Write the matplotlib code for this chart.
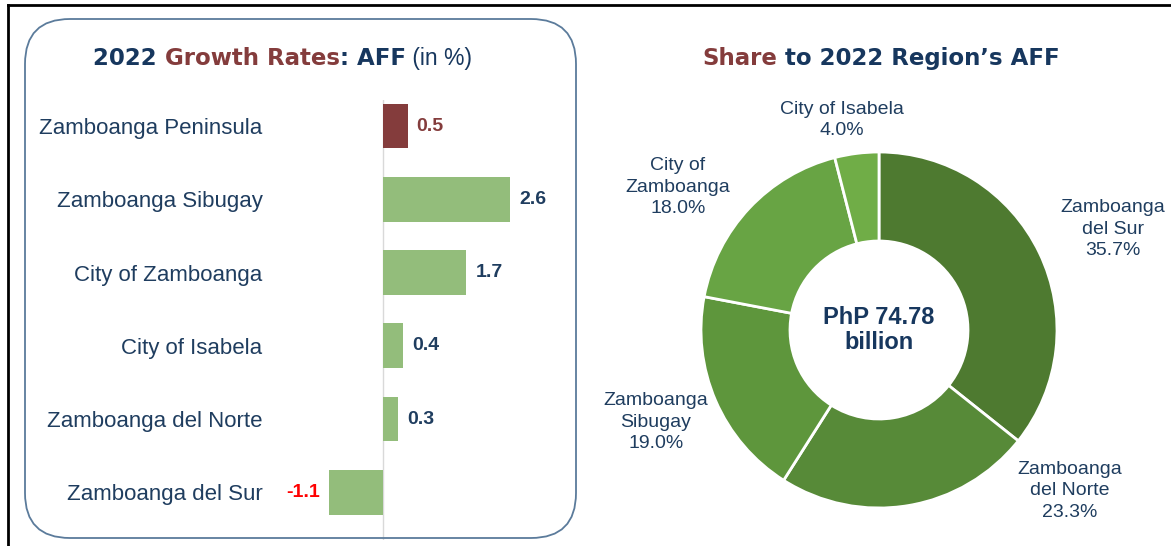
import matplotlib
matplotlib.use("Agg")
import matplotlib.pyplot as plt
from matplotlib.patches import FancyBboxPatch
from matplotlib.lines import Line2D

# ------------------------------------------------------------------------------
# data
bar_labels = ["Zamboanga Peninsula", "Zamboanga Sibugay", "City of Zamboanga",
              "City of Isabela", "Zamboanga del Norte", "Zamboanga del Sur"]
growth = [0.5, 2.6, 1.7, 0.4, 0.3, -1.1]

pie_labels = ["Zamboanga\ndel Sur", "Zamboanga\ndel Norte", "Zamboanga\nSibugay",
              "City of\nZamboanga", "City of Isabela"]
share = [35.7, 23.3, 19.0, 18.0, 4.0]
total_text = "PhP 74.78\nbillion"

# colours
navy = "#17375E"
txt_blue = "#1F3D5F"
maroon = "#843C3C"
bar_green = "#93BD7B"
pie_colors = ["#4E7A30", "#578A38", "#5E963C", "#68A444", "#70AD47"]
value_colors = [maroon, txt_blue, txt_blue, txt_blue, txt_blue, "#FF0000"]

W, H = 1171, 546
fig = plt.figure(figsize=(W / 100, H / 100), dpi=100)
plt.rcParams['font.family'] = ['Liberation Sans', 'DejaVu Sans']

# outer frame (top + left only)
fig.add_artist(Line2D([8 / W, 1], [1 - 5 / H] * 2, transform=fig.transFigure, color="black", lw=2))
fig.add_artist(Line2D([8 / W] * 2, [0, 1 - 5 / H], transform=fig.transFigure, color="black", lw=2))

# rounded box around the bar chart
box = FancyBboxPatch((0.25, 0.08), 5.51, 5.19, boxstyle="round,pad=0,rounding_size=0.45",
                     transform=fig.dpi_scale_trans, facecolor="none", edgecolor="#5B7B9B", lw=1.3)
fig.add_artist(box)

# ------------------------------------------------------------------------------
# bar chart
ax1 = fig.add_axes([300 / W, 6 / H, 279 / W, 440 / H])
ax1.patch.set_alpha(0)
ypos = list(range(len(growth)))
cols = [maroon] + [bar_green] * (len(growth) - 1)
ax1.barh(ypos, growth, height=0.61, color=cols, zorder=2)
ax1.axvline(0, color="#D9D9D9", lw=1, zorder=1)
ax1.set_xlim(-1.7, 4.0)
ax1.set_ylim(5.65, -0.355)
ax1.set_xticks([])
ax1.set_yticks(ypos)
ax1.set_yticklabels(bar_labels, fontsize=16, color=txt_blue)
ax1.tick_params(axis="y", length=0, pad=27)
for s in ax1.spines.values():
    s.set_visible(False)

for y, v, c in zip(ypos, growth, value_colors):
    off = 6.5 if v >= 0 else -6.5
    ax1.annotate(f"{v:.1f}", (v, y), xytext=(off, 0), textcoords="offset points",
                 ha="left" if v >= 0 else "right", va="center",
                 fontsize=14, fontweight="bold", color=c)

# title pieces chained left to right
def chain_title(x0, pieces):
    prev = fig.text(x0 / W, 1 - 65 / H, pieces[0][0], color=pieces[0][1],
                    fontsize=16.5, fontweight=pieces[0][2], va="baseline", ha="left",
                    family="DejaVu Sans")
    for t, c, wgt in pieces[1:]:
        prev = fig.add_artist(plt.Annotation(t, xy=(1, 0), xycoords=prev, va="bottom", ha="left",
                                             color=c, fontsize=16.5, fontweight=wgt,
                                             family="DejaVu Sans" if wgt == "bold" else "Liberation Sans"))

chain_title(93, [("2022 ", navy, "bold"), ("Growth Rates", maroon, "bold"),
                 (": AFF", navy, "bold"), (" (in %)", navy, "normal")])
chain_title(702, [("Share", maroon, "bold"), (" to 2022 Region\u2019s AFF", navy, "bold")])

# ------------------------------------------------------------------------------
# donut chart
cx, cy, r = 879, 216, 178
ax2 = fig.add_axes([(cx - r) / W, (cy - r) / H, 2 * r / W, 2 * r / H])
ax2.pie(share, colors=pie_colors, startangle=90, counterclock=False, radius=1,
        wedgeprops=dict(width=0.5, edgecolor="white", linewidth=2))
ax2.set_xlim(-1, 1)
ax2.set_ylim(-1, 1)

label_xy = [(1.315, 0.567), (1.073, -0.904), (-1.253, -0.517), (-1.129, 0.803), (-0.208, 1.18)]
for name, v, (lx, ly) in zip(pie_labels, share, label_xy):
    ax2.text(lx, ly, f"{name}\n{v:.1f}%", ha="center", va="center", fontsize=14,
             color=txt_blue, linespacing=1.35, clip_on=False)

ax2.text(0, 0, total_text, ha="center", va="center", fontsize=17, fontweight="bold",
         color=navy, linespacing=1.15)

fig.savefig("out.png", dpi=100)
